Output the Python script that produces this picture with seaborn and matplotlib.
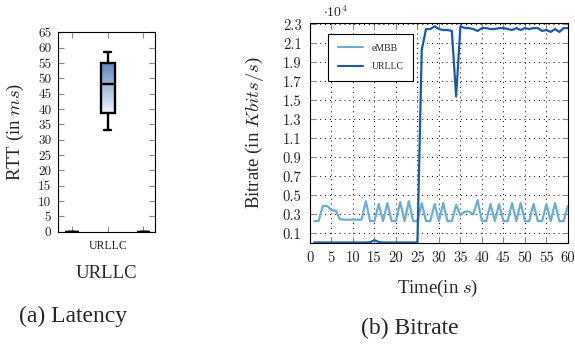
import numpy as np
import pandas as pd
import seaborn as sns
import matplotlib.pyplot as plt
from matplotlib.lines import Line2D
from matplotlib.colors import LinearSegmentedColormap

# (a) latency: RTT samples in ms (low whisker, q1, median, q3, high whisker)
rtt_slots = ['left', 'URLLC', 'right']
rtt_ticklabels = ['', 'URLLC', '']
rtt_urllc = [33.3, 38.8, 48.2, 55.1, 58.7]
rtt_empty = [0, 0, 0, 0, 0]

# (b) bitrate in units of 1e4 Kbit/s, one sample per second
time_s = list(range(1, 61))
embb_rate = [0.23, 0.23, 0.39, 0.39, 0.345, 0.34, 0.25, 0.245, 0.245, 0.245,
             0.245, 0.245, 0.44, 0.23, 0.23, 0.41, 0.23, 0.42, 0.23, 0.23,
             0.43, 0.23, 0.44, 0.23, 0.23, 0.42, 0.23, 0.23, 0.41, 0.23,
             0.42, 0.23, 0.23, 0.40, 0.29, 0.33, 0.33, 0.30, 0.45, 0.23,
             0.23, 0.41, 0.23, 0.41, 0.23, 0.23, 0.42, 0.23, 0.42, 0.23,
             0.23, 0.41, 0.23, 0.23, 0.41, 0.23, 0.42, 0.23, 0.23, 0.39]
urllc_rate = [0.005, 0.005, 0.005, 0.005, 0.005, 0.005, 0.005, 0.005, 0.005, 0.005,
              0.005, 0.005, 0.005, 0.008, 0.03, 0.01, 0.005, 0.005, 0.005, 0.005,
              0.005, 0.005, 0.005, 0.005, 0.005, 2.03, 2.25, 2.25, 2.28, 2.25,
              2.24, 2.24, 2.23, 1.54, 2.28, 2.26, 2.26, 2.25, 2.23, 2.26,
              2.26, 2.25, 2.25, 2.26, 2.26, 2.25, 2.24, 2.26, 2.24, 2.26,
              2.25, 2.26, 2.26, 2.23, 2.24, 2.22, 2.25, 2.22, 2.26, 2.26]

embb_color = '#6aaed8'
urllc_color = '#1a5aa6'

sns.set_style('white')
plt.rcParams['font.family'] = ['Liberation Serif', 'DejaVu Serif']
plt.rcParams['mathtext.fontset'] = 'cm'

fig = plt.figure(figsize=(5.75, 3.45), dpi=100)
ax1 = fig.add_axes([0.1014, 0.3284, 0.1687, 0.578])
ax2 = fig.add_axes([0.539, 0.2957, 0.4487, 0.6377])

# ---- (a) latency boxplot
rtt_df = pd.DataFrame({
    'slot': np.repeat(rtt_slots, 5),
    'rtt': rtt_empty + rtt_urllc + rtt_empty,
})
sns.boxplot(data=rtt_df, x='slot', y='rtt', order=rtt_slots, width=0.38,
            color='white', linecolor='black', linewidth=1.7, whis=1.5,
            showfliers=False, ax=ax1)

# vertical blue->white gradient inside the URLLC box
box = ax1.patches[1]
ext = box.get_path().get_extents()
cmap = LinearSegmentedColormap.from_list('boxgrad', ['#f2f6fb', '#5a87be'])
grad = np.linspace(0, 1, 256).reshape(-1, 1)
im = ax1.imshow(grad, extent=(ext.x0, ext.x1, ext.y0, ext.y1), origin='lower',
                cmap=cmap, aspect='auto', zorder=box.get_zorder() - 0.01)
im.set_clip_path(box)
box.set_facecolor('none')

ax1.set_xlim(-0.38, 2.33)
ax1.set_ylim(0, 65)
ax1.set_yticks(range(0, 70, 5))
ax1.set_xticks(range(3))
ax1.set_xticklabels(rtt_ticklabels, fontsize=8.5)
ax1.tick_params(axis='y', labelsize=9.5, labelfontfamily='cmr10', pad=5)
ax1.tick_params(axis='x', pad=6)
ax1.set_xlabel('URLLC', fontsize=13.5)
ax1.xaxis.set_label_coords(0.5, -0.165)
ax1.set_ylabel('RTT (in $ms$)', fontsize=13.5)
ax1.yaxis.set_label_coords(-0.33, 0.5)

# ---- (b) bitrate over time
sns.lineplot(x=time_s, y=embb_rate, color=embb_color, linewidth=1.6, ax=ax2, zorder=3)
sns.lineplot(x=time_s, y=urllc_rate, color=urllc_color, linewidth=1.6, ax=ax2, zorder=4)

ax2.set_xlim(0, 60)
ax2.set_ylim(0, 2.314)
ax2.set_xticks(range(0, 61, 5))
ax2.set_yticks(np.round(np.arange(0.1, 2.31, 0.2), 1))
ax2.set_yticklabels([f'{v:.1f}' for v in np.arange(0.1, 2.31, 0.2)])
ax2.grid(True, color='black', linestyle=(0, (1, 4)), linewidth=0.7)
ax2.set_axisbelow(True)
ax2.tick_params(axis='both', labelsize=10.5, labelfontfamily='cmr10', pad=6)
ax2.set_xlabel('Time(in $s$)', fontsize=13.5)
ax2.xaxis.set_label_coords(0.496, -0.16)
ax2.set_ylabel('Bitrate (in $Kbits/s$)', fontsize=13.5)
ax2.yaxis.set_label_coords(-0.17, 0.5)

handles = [Line2D([], [], color=embb_color, linewidth=1.5, label='eMBB'),
           Line2D([], [], color=urllc_color, linewidth=1.5, label='URLLC')]
leg = ax2.legend(handles=handles, loc='upper left', bbox_to_anchor=(0.07, 0.95),
                 borderaxespad=0, fontsize=7, frameon=True, fancybox=False,
                 edgecolor='black', framealpha=1, handlelength=2.6,
                 handletextpad=0.9, labelspacing=1.0, borderpad=1.0)
leg.get_frame().set_linewidth(0.8)

for ax in (ax1, ax2):
    ax.tick_params(direction='in', length=4, width=0.8, color='#888888',
                   labelcolor='#222222', top=True, right=True, bottom=True, left=True)
    for sp in ax.spines.values():
        sp.set_visible(True)
        sp.set_color('black')
        sp.set_linewidth(0.8)

fig.text(335 / 575, 1 - 12 / 345, r'$\cdot 10^4$', fontsize=10, ha='center', va='center')
fig.text(73 / 575, 1 - 316 / 345, '(a) Latency', fontsize=17, ha='center', va='center')
fig.text(410 / 575, 1 - 328 / 345, '(b) Bitrate', fontsize=17, ha='center', va='center')

fig.savefig('out.png', dpi=100)
